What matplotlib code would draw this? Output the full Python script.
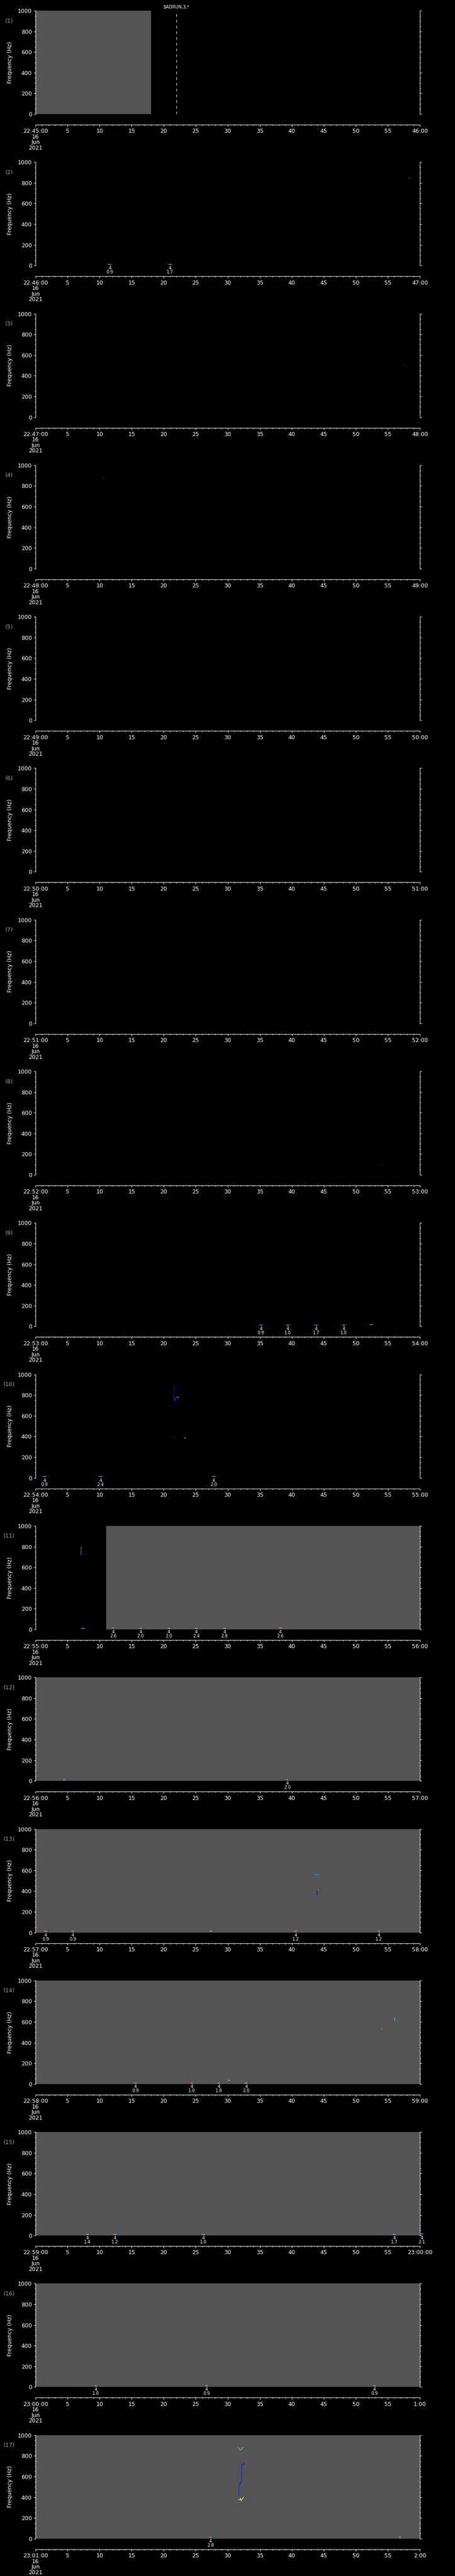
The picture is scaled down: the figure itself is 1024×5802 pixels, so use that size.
import matplotlib
matplotlib.use('Agg')
import matplotlib.pyplot as plt
from matplotlib.ticker import MultipleLocator
import matplotlib.transforms as mtrans

plt.rcParams['font.family'] = ['DejaVu Sans']
plt.rcParams['lines.scale_dashes'] = False

W, H, DPI = 1024, 5802, 100
N_PANELS = 17

# ---------------- data ----------------
start_labels = ["22:45:00", "22:46:00", "22:47:00", "22:48:00", "22:49:00", "22:50:00",
                "22:51:00", "22:52:00", "22:53:00", "22:54:00", "22:55:00", "22:56:00",
                "22:57:00", "22:58:00", "22:59:00", "23:00:00", "23:01:00"]
end_labels = ["46:00", "47:00", "48:00", "49:00", "50:00", "51:00", "52:00", "53:00",
              "54:00", "55:00", "56:00", "57:00", "58:00", "59:00", "23:00:00", "1:00", "2:00"]
date_lines = ["16", "Jun", "2021"]
mid_labels = ["5", "10", "15", "20", "25", "30", "35", "40", "45", "50", "55"]
freq_ticks = [0, 200, 400, 600, 800, 1000]

# gray (data present) spans: panel, start s, end s
gray_panel = [1, 11, 12, 13, 14, 15, 16, 17]
gray_start = [0, 11, 0, 0, 0, 0, 0, 0]
gray_end = [18, 60, 60, 60, 60, 60, 60, 60]

# detection markers: panel, time (s), label (None = no label)
marker_panel = [2, 2,
                9, 9, 9, 9, 9,
                10, 10, 10,
                11, 11, 11, 11, 11, 11, 11,
                12, 12,
                13, 13, 13, 13, 13,
                14, 14, 14, 14, 14,
                15, 15, 15, 15, 15,
                16, 16, 16,
                17, 17]
marker_time = [11.6, 21.0,
               35.2, 39.4, 43.8, 48.1, 52.4,
               1.4, 10.15, 27.8,
               7.4, 12.1, 16.4, 20.8, 25.1, 29.5, 38.2,
               4.5, 39.3,
               1.6, 5.8, 27.4, 40.6, 53.6,
               15.6, 24.4, 28.6, 30.2, 32.9,
               8.1, 12.4, 26.2, 56.0, 60.3,
               9.4, 26.7, 52.9,
               27.3, 56.9]
marker_label = ["0.9", "1.7",
                "0.9", "1.0", "1.7", "1.0", None,
                "0.9", "2.4", "2.0",
                None, "2.6", "2.0", "2.0", "2.4", "2.8", "2.6",
                None, "2.0",
                "0.9", "0.9", None, "1.2", "1.2",
                "0.9", "1.0", "1.8", None, "2.0",
                "1.4", "1.2", "1.0", "1.7", "2.1",
                "1.0", "0.9", "0.9",
                "2.8", None]
marker_freq = [14, 14,
               14, 14, 14, 14, 18,
               14, 14, 14,
               12, 18, 14, 14, 14, 14, 18,
               14, 14,
               14, 14, 14, 14, 14,
               14, 14, 14, 36, 14,
               14, 14, 14, 14, 18,
               14, 14, 14,
               14, 14]
marker_colors = ['#ff2000', '#ffd000', '#40ffc0', '#0030ff']

# signal traces: panel, times, freqs, colour
trace_panel = [2, 3, 4, 8,
               10, 10, 10, 10, 10,
               11, 11, 11,
               13, 13, 13,
               14, 14,
               17, 17, 17, 17]
trace_t = [[58.3, 58.4], [57.5, 57.6], [10.6, 10.7], [54.0, 54.1],
           [21.66, 21.66], [21.6, 21.7, 22.1], [22.1, 22.35], [21.62, 21.72], [23.3, 23.38],
           [7.1, 7.1], [7.05, 7.15], [7.05, 7.15],
           [43.6, 44.2], [43.9, 43.9], [44.05, 44.15],
           [53.95, 54.1], [56.05, 56.05],
           [31.6, 31.75, 31.9, 32.1, 32.3, 32.5],
           [31.7, 31.75, 31.75, 31.9, 31.95, 32.1, 32.15, 32.2, 32.35, 32.45, 32.6],
           [31.6, 31.9, 32.0, 32.1, 32.3, 32.5],
           [33.3, 33.5, 33.6]]
trace_f = [[850, 850], [506, 506], [880, 880], [100, 100],
           [892, 825], [800, 746, 786], [782, 775], [396, 396], [380, 392],
           [722, 800], [800, 800], [722, 722],
           [562, 558], [363, 413], [413, 413],
           [535, 535], [610, 643],
           [884, 870, 855, 860, 880, 884],
           [404, 410, 500, 530, 540, 545, 570, 719, 720, 710, 738],
           [375, 375, 390, 365, 385, 400],
           [375, 365, 354]]
trace_color = ['#20a0ff', '#20a0ff', '#20a0ff', '#20a0ff',
               '#0010d0', '#0030ff', '#ff9000', '#2060ff', '#c0ff20',
               '#6070a0', '#ffff00', '#0030ff',
               '#20a0ff', '#0010d0', '#a0ff40',
               '#00e0ff', '#00e0ff',
               '#40e0a0', '#0020ff', '#e0ff20', '#2040ff']

dashed_time = 22.0
dashed_text = r"\$ADRUN,3,*"

# ---------------- layout ----------------
STEP = H / N_PANELS
AX_L, AX_R = 80, 945
AX_TOP, AX_BOT = 24, 257
TAX_Y = 281
FS = 9
WHITE = 'white'

fig = plt.figure(figsize=(W / DPI, H / DPI), dpi=DPI, facecolor='black')


def fx(x):
    return x / W


def fy(y):
    return 1 - y / H


for k in range(1, N_PANELS + 1):
    o = (k - 1) * STEP
    ax = fig.add_axes([fx(AX_L), fy(AX_BOT + o), (AX_R - AX_L) / W, (AX_BOT - AX_TOP) / H])
    ax.set_facecolor('black')
    ax.set_xlim(0, 60)
    ax.set_ylim(0, 1000)
    for s in ['top', 'bottom']:
        ax.spines[s].set_visible(False)
    for s in ['left', 'right']:
        ax.spines[s].set_color(WHITE)
        ax.spines[s].set_linewidth(0.8)
    ax.set_xticks([])
    ax.set_yticks(freq_ticks)
    ax.yaxis.set_minor_locator(MultipleLocator(50))
    ax.tick_params(axis='y', which='major', direction='out', length=3, width=0.8,
                   colors=WHITE, labelsize=FS, pad=3, left=True, right=True,
                   labelleft=True, labelright=False)
    ax.tick_params(axis='y', which='minor', direction='out', length=1.7, width=0.8,
                   colors=WHITE, left=True, right=True)

    # gray data-present areas
    for p, a, b in zip(gray_panel, gray_start, gray_end):
        if p == k:
            ax.axvspan(a, b, ymin=0, ymax=1, facecolor='#545454', edgecolor='none', zorder=0)

    # traces
    for p, tt, ff, c in zip(trace_panel, trace_t, trace_f, trace_color):
        if p == k:
            ax.plot(tt, ff, color=c, lw=1.0, solid_capstyle='butt', zorder=3, clip_on=False)

    # markers
    for p, t, lab, fr in zip(marker_panel, marker_time, marker_label, marker_freq):
        if p == k:
            w = 0.2
            for i, c in enumerate(marker_colors):
                x0 = t - 0.4 + i * w
                ax.plot([x0, x0 + w], [fr, fr], color=c, lw=1.0,
                        solid_capstyle='butt', zorder=4, clip_on=False)
            if lab is not None:
                tr = mtrans.blended_transform_factory(ax.transData, ax.transAxes)
                ax.annotate("4", xy=(t, 0), xycoords=tr, xytext=(0, -6),
                            textcoords='offset pixels', ha='center', va='center',
                            color=WHITE, fontsize=7, annotation_clip=False)
                ax.annotate(lab, xy=(t, 0), xycoords=tr, xytext=(0, -15),
                            textcoords='offset pixels', ha='center', va='center',
                            color=WHITE, fontsize=7, annotation_clip=False)

    if k == 1:
        ax.vlines(dashed_time, 0, 992, colors=WHITE, linestyles=[(0, (4.3, 5.0))],
                  lw=0.8, zorder=5)
        fig.text(fx(397), fy(15 + o), dashed_text, color=WHITE, fontsize=7,
                 ha='center', va='center')

    # labels
    fig.text(fx(23), fy((AX_TOP + AX_BOT) / 2 + o), "Frequency (Hz)", rotation=90,
             color=WHITE, fontsize=FS, ha='center', va='center')
    fig.text(fx(21), fy(47 + o), "(%d)" % k, color='#a0a0a0', fontsize=FS,
             ha='center', va='center')

    # time axis
    tax = fig.add_axes([fx(AX_L), fy(TAX_Y + o), (AX_R - AX_L) / W, 0.00001])
    tax.set_facecolor('none')
    tax.set_xlim(0, 60)
    for s in ['top', 'left', 'right']:
        tax.spines[s].set_visible(False)
    tax.spines['bottom'].set_color(WHITE)
    tax.spines['bottom'].set_linewidth(0.8)
    tax.set_yticks([])
    tax.set_xticks(list(range(0, 61, 5)))
    tax.xaxis.set_minor_locator(MultipleLocator(1))
    labels = [start_labels[k - 1] + "\n" + "\n".join(date_lines)] + mid_labels + [end_labels[k - 1]]
    tax.set_xticklabels(labels, linespacing=0.95)
    tax.tick_params(axis='x', which='major', direction='out', length=3, width=0.8,
                    colors=WHITE, labelsize=FS, pad=3)
    tax.tick_params(axis='x', which='minor', direction='out', length=1.7, width=0.8,
                    colors=WHITE)

fig.savefig('out.png', dpi=DPI, facecolor='black')
